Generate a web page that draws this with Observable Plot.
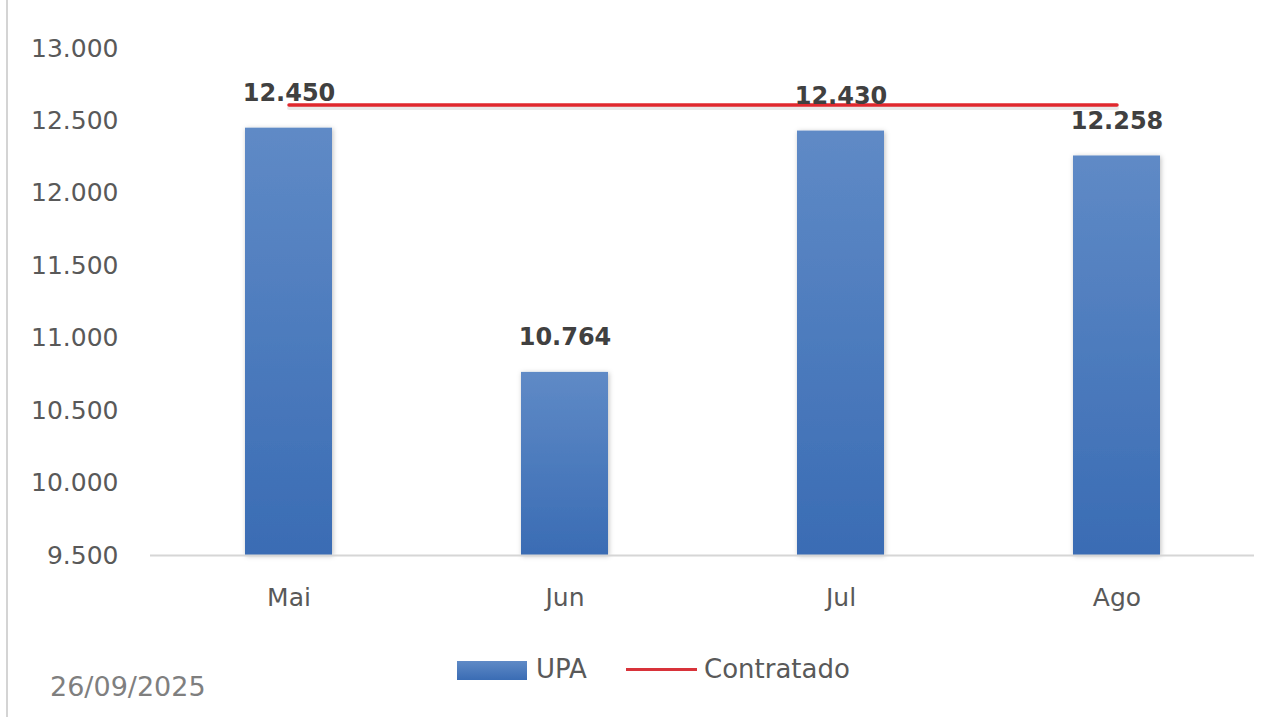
<!DOCTYPE html>
<html>
<head>
<meta charset="utf-8">
<script src="https://cdn.jsdelivr.net/npm/d3@7"></script>
<script src="https://cdn.jsdelivr.net/npm/@observablehq/plot@0.6"></script>
<style>
  html, body { margin: 0; padding: 0; background: #fff; }
  #wrap { position: relative; width: 1281px; height: 717px; overflow: hidden; font-family: "DejaVu Sans", sans-serif; }
  #border { position: absolute; left: 6px; top: 0; width: 2px; height: 717px; background: #d4d4d4; }
  .leg { position: absolute; color: #595959; font-size: 26px; line-height: 30px; }
  #date { position: absolute; left: 50px; top: 670px; color: #7f7f7f; font-size: 27px; line-height: 34px; }
</style>
</head>
<body>
<div id="wrap">
  <div id="border"></div>
  <div id="chart"></div>
  <div class="leg" style="left:457px; top:661px; width:70px; height:19px; background:linear-gradient(#5f8ac6,#3a6cb4);"></div>
  <div class="leg" style="left:536px; top:654px;">UPA</div>
  <div class="leg" style="left:626px; top:668px; width:71px; height:3px; background:#d8333a;"></div>
  <div class="leg" style="left:704px; top:654px;">Contratado</div>
  <div id="date">26/09/2025</div>
</div>
<script>
const months = ["Mai", "Jun", "Jul", "Ago"];
const upa = [12450, 10764, 12430, 12258];
const contratado = [12610, 12610, 12610, 12610];
const yTicks = [9500, 10000, 10500, 11000, 11500, 12000, 12500, 13000];

const data = months.map((m, i) => ({month: m, upa: upa[i], contratado: contratado[i]}));
const fmt = d3.formatLocale({decimal: ",", thousands: ".", grouping: [3], currency: ["", ""]}).format(",d");

const defs = () => {
  const d = d3.create("svg:defs");
  const g = d.append("linearGradient").attr("id", "barGrad").attr("x1", 0).attr("x2", 0).attr("y1", 0).attr("y2", 1);
  g.append("stop").attr("offset", "0%").attr("stop-color", "#5f8ac6");
  g.append("stop").attr("offset", "100%").attr("stop-color", "#3a6cb4");
  const f = d.append("filter").attr("id", "shadow").attr("x", "-20%").attr("y", "-5%").attr("width", "140%").attr("height", "115%");
  f.append("feDropShadow").attr("dx", 1).attr("dy", 1).attr("stdDeviation", 2.5).attr("flood-color", "#000").attr("flood-opacity", 0.25);
  return d.node();
};

const chart = Plot.plot({
  width: 1281,
  height: 717,
  marginLeft: 150,
  marginRight: 27,
  marginTop: 48,
  marginBottom: 162,
  style: {fontFamily: "DejaVu Sans", fontSize: "25px", background: "transparent"},
  x: {domain: months, paddingInner: 0.685, paddingOuter: 0.3425, label: null},
  y: {domain: [9500, 13000], label: null},
  marks: [
    defs,
    Plot.axisY({ticks: yTicks, tickFormat: fmt, tickSize: 0, tickPadding: 32, fontSize: 25, color: "#595959", label: null}),
    Plot.axisX({tickSize: 0, tickPadding: 33, fontSize: 25, color: "#595959", label: null}),
    Plot.barY(data, {x: "month", y1: 9500, y2: "upa", fill: "url(#barGrad)"}),
    Plot.ruleY([9500], {stroke: "#d6d6d6", strokeWidth: 2}),
    Plot.lineY(data, {x: "month", y: "contratado", stroke: "#888", strokeWidth: 4, strokeOpacity: 0.18, dy: 3}),
    Plot.lineY(data, {x: "month", y: "contratado", stroke: "#e0282e", strokeWidth: 3.5}),
    Plot.text(data, {x: "month", y: "upa", text: d => fmt(d.upa), dy: -35, fontSize: 24, fontWeight: "bold", fill: "#404040"})
  ]
});
d3.select(chart).selectAll("g[aria-label=bar] rect").attr("filter", "url(#shadow)");
document.getElementById("chart").appendChild(chart);
</script>
</body>
</html>
